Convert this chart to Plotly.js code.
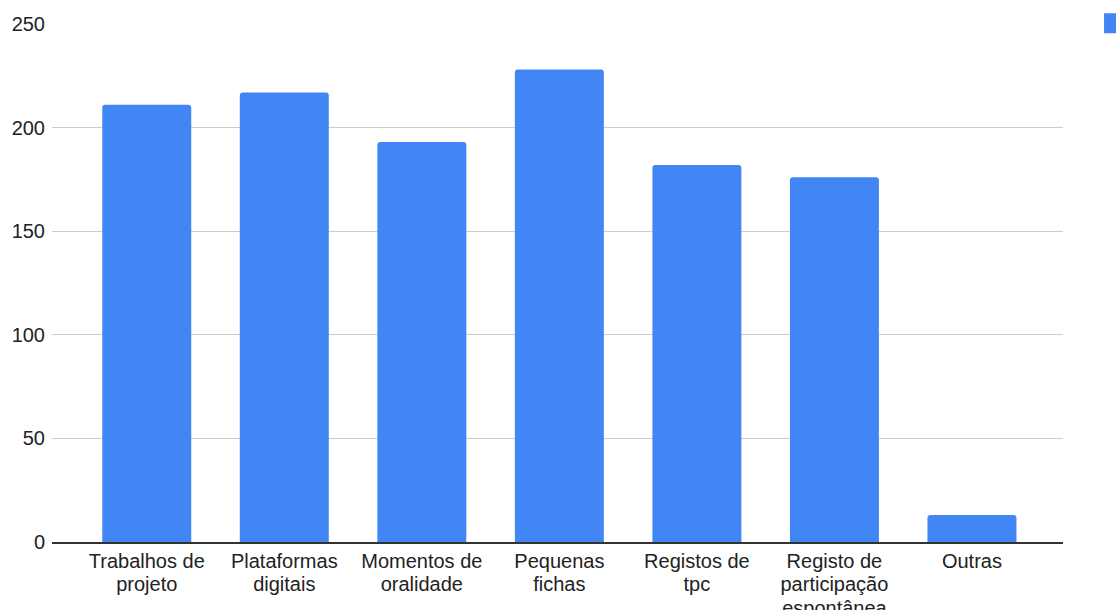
<!DOCTYPE html>
<html>
<head>
<meta charset="utf-8">
<script src="https://cdn.plot.ly/plotly-3.0.1.min.js"></script>
<style>
  html, body { margin: 0; padding: 0; background: #fff; }
  #chart { width: 1116px; height: 610px; }
</style>
</head>
<body>
<div id="chart"></div>
<script>
const categories = [
  "Trabalhos de<br>projeto",
  "Plataformas<br>digitais",
  "Momentos de<br>oralidade",
  "Pequenas<br>fichas",
  "Registos de<br>tpc",
  "Registo de<br>participação<br>espontânea",
  "Outras"
];
const values = [211, 217, 193, 228, 182, 176, 13];
const seriesName = "Contagem";
const yTicks = [0, 50, 100, 150, 200, 250];

const trace = {
  type: "bar",
  x: categories,
  y: values,
  name: seriesName,
  width: 0.647,
  marker: { color: "#4285F4", cornerradius: 3, line: { width: 0 } },
  showlegend: true,
  hoverinfo: "x+y"
};

const layout = {
  width: 1116,
  height: 610,
  margin: { l: 52, r: 53, t: 24, b: 68, autoexpand: false },
  paper_bgcolor: "#ffffff",
  plot_bgcolor: "#ffffff",
  font: { family: "Arial, 'Liberation Sans', sans-serif", size: 20, color: "#222222" },
  bargap: 0.35,
  showlegend: true,
  legend: {
    x: 1.0307, xanchor: "left", y: 1.039, yanchor: "top",
    font: { size: 20, color: "#222222" },
    bgcolor: "rgba(0,0,0,0)"
  },
  xaxis: {
    type: "category",
    range: [-0.689, 6.662],
    showgrid: false,
    zeroline: false,
    showline: true,
    linecolor: "#333333",
    linewidth: 1.5,
    ticks: "",
    tickfont: { size: 20, color: "#222222" },
    automargin: false
  },
  yaxis: {
    range: [0, 250],
    tickvals: yTicks,
    ticktext: yTicks.map(String),
    showgrid: true,
    gridcolor: "#cccccc",
    gridwidth: 1,
    zeroline: false,
    showline: false,
    ticks: "",
    ticklabelstandoff: 6,
    tickfont: { size: 20, color: "#222222" },
    automargin: false
  }
};

Plotly.newPlot("chart", [trace], layout, { displayModeBar: false, staticPlot: true }).then(function (gd) {
  // tighter line spacing for the multi-line category labels
  gd.querySelectorAll(".xtick text").forEach(function (txt) {
    txt.querySelectorAll("tspan.line").forEach(function (t, i) {
      t.setAttribute("dy", (i * 1.175).toFixed(3) + "em");
    });
  });
  // larger legend swatch, as in the reference
  gd.querySelectorAll(".legend .legendpoints path").forEach(function (p) {
    p.setAttribute("d", "M10,10H-10V-10H10Z");
  });
});
</script>
</body>
</html>
